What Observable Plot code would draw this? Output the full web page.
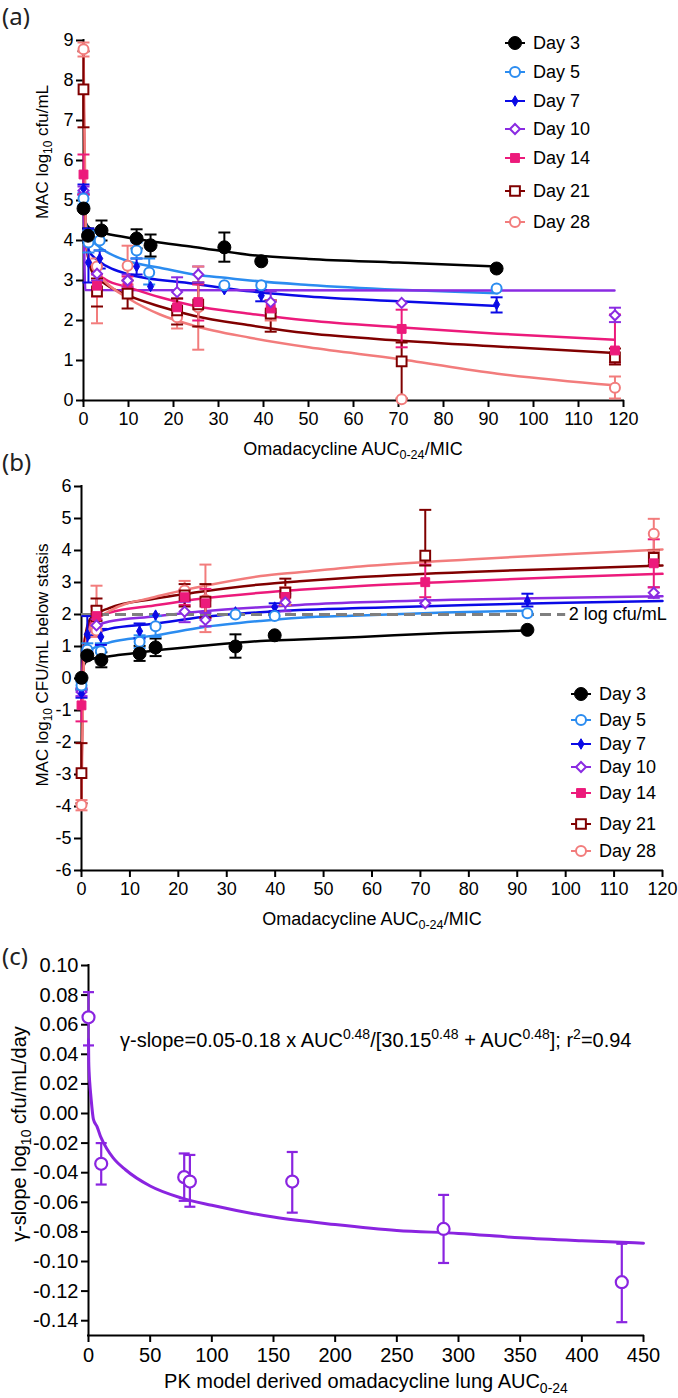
<!DOCTYPE html>
<html><head><meta charset="utf-8">
<script src="https://cdn.jsdelivr.net/npm/d3@7"></script>
<script src="https://cdn.jsdelivr.net/npm/@observablehq/plot@0.6"></script>
<style>
body{margin:0;background:#fff;}
#root{position:relative;width:678px;height:1398px;font-family:"Liberation Sans",Arial,sans-serif;color:#000;overflow:hidden;background:#fff}
.abs{position:absolute;white-space:nowrap;line-height:1}
.rot{transform:translate(-50%,-50%) rotate(-90deg)}
.ctr{transform:translate(-50%,-50%)}
.lab{font-family:"Noto Sans","Open Sans",sans-serif;font-size:24px;color:#222}
sub,sup{font-size:70%;line-height:0}
sub{vertical-align:-0.35em}
sup{vertical-align:0.55em}
.plotbox{position:absolute;left:0}
</style></head><body><div id="root"></div>
<script>
// ---------------- DATA ----------------
const days = ["Day 3","Day 5","Day 7","Day 10","Day 14","Day 21","Day 28"];

// Panel (a): [AUC0-24/MIC, MAC log10 cfu/mL, lower, upper]
const a_day3  = [[0,4.8],[1.0,4.12,3.95,4.3],[4.0,4.25,4.0,4.5],[11.8,4.05,3.8,4.28],[14.9,3.88,3.6,4.15],[31.3,3.83,3.47,4.2],[39.5,3.48],[91.8,3.3]];
const a_day5  = [[0,5.05,4.9,5.2],[1.1,3.95,3.7,4.25],[3.6,4.0,3.75,4.2],[11.8,3.75,3.55,3.95],[14.6,3.2,2.9,3.55],[31.3,2.88],[39.5,2.88],[91.8,2.8]];
const a_day7  = [[0,5.3,5.15,5.4],[1.1,3.45,2.95,4.3],[3.6,3.55,3.3,3.75],[11.8,3.35,3.15,3.55],[14.9,2.85],[31.3,2.77],[39.5,2.62,2.48,2.75],[91.8,2.4,2.2,2.58]];
const a_day10 = [[0,5.25,5.15,5.35],[3.0,3.17,3.0,3.35],[9.8,3.0,2.85,3.15],[20.8,2.71,2.35,3.08],[25.5,3.15,2.95,3.35],[41.6,2.46,2.2,2.73],[70.7,2.44],[118.1,2.13,1.96,2.32]];
const a_day14 = [[0,5.65,5.15,6.15],[3.0,2.87,2.6,3.15],[9.8,2.95,2.8,3.1],[20.8,2.33,2.1,2.55],[25.5,2.46,2.0,2.9],[41.6,2.3,2.1,2.5],[70.7,1.79,1.33,2.27],[118.1,1.25,0.95,2.15]];
const a_day21 = [[0,7.78,6.83,8.73],[3.0,2.73,2.35,3.05],[9.8,2.67,2.3,3.0],[20.8,2.25,1.9,2.55],[25.5,2.4,1.85,2.95],[41.6,2.17,1.72,2.5],[70.7,0.98,0.05,1.45],[118.1,1.08,0.9,1.3]];
const a_day28 = [[0,8.78,8.6,8.95],[3.0,3.35,1.93,3.55],[9.8,3.37,2.9,3.87],[20.8,2.08,1.8,2.3],[25.5,2.33,1.27,3.35],[41.6,2.25,2.0,2.5],[70.7,0.03],[118.1,0.32,0.05,0.6]];

// Panel (a) fitted curves: [x, y]
const a_fit3  = [[0,4.8],[0.5,4.45],[1,4.35],[2,4.27],[4,4.2],[10,4.07],[15,3.98],[24.5,3.84],[37,3.64],[50,3.54],[70,3.45],[92,3.35]];
const a_fit5  = [[0,5.05],[0.5,4.45],[1,4.2],[2,4.0],[4,3.8],[10,3.48],[17,3.32],[24.5,3.15],[32,3.06],[37,3.0],[50,2.89],[70,2.77],[92,2.68]];
const a_fit7  = [[0,5.3],[0.5,4.1],[1,3.8],[2,3.62],[3,3.52],[9.5,3.17],[24.5,2.92],[37,2.73],[50,2.6],[70,2.48],[92,2.36]];
const a_fit10 = [[0,5.25],[0.4,2.76],[118,2.75]];
const a_fit14 = [[0,5.65],[0.5,4.0],[1,3.6],[2,3.3],[5,3.02],[10,2.83],[17,2.58],[24.5,2.37],[37,2.17],[50,2.0],[70,1.83],[92,1.67],[118,1.52]];
const a_fit21 = [[0,7.78],[0.5,4.3],[1,3.6],[2,3.2],[5,2.9],[10,2.62],[17,2.35],[24.5,2.12],[37,1.88],[50,1.68],[70,1.5],[92,1.35],[118,1.19]];
const a_fit28 = [[0,8.78],[0.5,4.3],[1,3.7],[2,3.35],[5,2.95],[10,2.55],[17,2.15],[24.5,1.87],[37,1.57],[50,1.33],[70,1.04],[92,0.67],[118,0.38]];

// Panel (b): [AUC0-24/MIC, log10 CFU/mL below stasis, lower, upper]
const b_day3  = [[0,0.02],[1.2,0.72],[4.1,0.58,0.35,0.82],[12,0.78,0.55,1.02],[15.3,0.97,0.7,1.25],[31.8,1.0,0.65,1.38],[39.9,1.35],[92.1,1.52]];
const b_day5  = [[0,-0.22,-0.35,-0.1],[1.2,0.9,0.7,1.1],[4.0,0.85,0.6,1.1],[12,1.15,0.95,1.35],[15.3,1.63,1.3,1.95],[31.8,2.0],[39.9,1.95],[92.1,2.04]];
const b_day7  = [[0,-0.47,-0.6,-0.35],[1.2,1.38,0.85,1.95],[4.0,1.3,1.05,1.55],[12,1.48,1.25,1.72],[15.3,1.98],[31.8,2.08],[39.9,2.23,2.1,2.35],[92.1,2.42,2.25,2.65]];
const b_day10 = [[0,-0.42,-0.55,-0.3],[3.1,1.66,1.45,1.85],[21.3,2.09,1.76,2.4],[25.6,1.83,1.63,2.05],[42.1,2.38,2.1,2.65],[71,2.35],[118.2,2.68,2.52,2.85]];
const b_day14 = [[0,-0.84,-1.34,-0.34],[3.1,1.95,1.65,2.25],[21.3,2.54,2.3,2.78],[25.6,2.35,1.9,2.8],[42.1,2.55,2.3,2.75],[71,3.01,2.54,3.56],[118.2,3.6,2.85,4.35]];
const b_day21 = [[0,-2.96,-3.9,-2.02],[3.1,2.12,1.8,2.5],[21.3,2.6,2.25,2.95],[25.6,2.4,1.9,2.95],[42.1,2.68,2.3,3.12],[71,3.84,3.53,5.27],[118.2,3.77,3.55,4.0]];
const b_day28 = [[0,-3.95,-4.12,-3.8],[3.1,1.5,1.3,2.9],[21.3,2.75,2.5,3.05],[25.6,2.45,1.45,3.56],[42.1,2.58,2.3,2.85],[118.2,4.52,4.0,4.99]];

// Panel (b) fitted curves
const b_fit3  = [[0,0.02],[0.5,0.42],[1,0.53],[2,0.6],[4.5,0.67],[8,0.74],[15,0.87],[25,1.02],[37,1.17],[45,1.22],[57.6,1.3],[75,1.42],[92,1.5]];
const b_fit5  = [[0,-0.22],[0.5,0.5],[1,0.72],[2,0.9],[5.7,1.12],[10,1.24],[15,1.34],[25,1.6],[37,1.8],[45,1.9],[57.6,1.97],[75,2.06],[92,2.12]];
const b_fit7  = [[0,-0.47],[0.5,0.9],[1,1.13],[2,1.33],[5.7,1.55],[15,1.71],[25,1.92],[37,2.07],[45,2.14],[57.6,2.2],[80,2.3],[100,2.37],[120,2.42]];
const b_fit10 = [[0,-0.42],[0.5,1.0],[1,1.28],[2,1.52],[5.7,1.78],[15,1.94],[25,2.1],[37,2.23],[45,2.3],[57.6,2.38],[80,2.47],[100,2.52],[120,2.57]];
const b_fit14 = [[0,-0.84],[0.5,1.05],[1,1.45],[2,1.75],[5.7,2.05],[15,2.28],[25,2.5],[37,2.68],[45,2.77],[57.6,2.89],[80,3.05],[100,3.17],[120,3.27]];
const b_fit21 = [[0,-2.96],[0.5,0.8],[1,1.5],[2,1.9],[5.7,2.2],[15,2.49],[25,2.72],[37,2.94],[45,3.04],[57.6,3.17],[80,3.33],[100,3.43],[120,3.53]];
const b_fit28 = [[0,-3.95],[0.5,0.5],[1,1.2],[2,1.65],[5.7,2.1],[15,2.54],[25,2.88],[37,3.2],[45,3.32],[57.6,3.5],[80,3.72],[100,3.88],[120,4.03]];
const stasisRef = {y: 2, x1: 0, x2: 100, label: "2 log cfu/mL"};

// Panel (c)
const cAUC   = [0, 10.3, 77.6, 82.2, 165.2, 287.9, 432.4];
const cSlope = [0.065, -0.034, -0.043, -0.046, -0.046, -0.078, -0.114];
const cLo    = [0.046, -0.048, -0.059, -0.063, -0.067, -0.101, -0.141];
const cHi    = [0.082, -0.020, -0.027, -0.028, -0.026, -0.055, -0.088];
const cFitAUC   = [0,0.2,0.5,1,2,4,7,10,15,20,30,50,75,100,150,200,250,300,350,400,450];
const cFitSlope = [0.05,0.035,0.028,0.021,0.011,-0.004,-0.009,-0.016,-0.024,-0.030,-0.038,-0.049,-0.057,-0.062,-0.070,-0.075,-0.079,-0.081,-0.084,-0.086,-0.0876];

// Ticks
const aXTicks = [0,10,20,30,40,50,60,70,80,90,100,110,120];
const aYTicks = [0,1,2,3,4,5,6,7,8,9];
const bXTicks = [0,10,20,30,40,50,60,70,80,90,100,110,120];
const bYTicks = [-6,-5,-4,-3,-2,-1,0,1,2,3,4,5,6];
const cXTicks = [0,50,100,150,200,250,300,350,400,450];
const cYTicks = [0.10,0.08,0.06,0.04,0.02,0.00,-0.02,-0.04,-0.06,-0.08,-0.10,-0.12,-0.14];

// ---------------- STYLE ----------------
const dayColors  = ["#000000","#2b8cf0","#0a0ae6","#8a2be2","#ec1a7b","#800000","#f27c7c"];
const daySymbols = ["circle","circle","diamond","diamond2","square","square","circle"];
const dayFilled  = [true,false,true,false,true,false,false];
const dayR       = [6.5,5,3.2,4.5,5,5.5,5];
const cColor = "#8a24e0";
const FONT = '"Liberation Sans", Arial, sans-serif';
const capSym = {draw(ctx){ ctx.moveTo(-6,0); ctx.lineTo(6,0); }};
const capSymC = {draw(ctx){ ctx.moveTo(-5.5,0); ctx.lineTo(5.5,0); }};

// ---------------- BUILD ----------------
const root = document.getElementById("root");

function pointRows(list){ return list.flatMap((pts,i)=>pts.map(([x,y,lo,hi])=>({day:days[i],x,y,lo:lo??y,hi:hi??y}))); }
function fitRows(list){ return list.flatMap((pts,i)=>pts.map(([x,y])=>({day:days[i],x,y}))); }

function dayMarks(pts, fits, extra){
  const err = pts.filter(d=>d.hi>d.lo);
  const marks = [
    Plot.line(fits, {x:"x", y:"y", z:"day", stroke:"day", strokeWidth:2.5, curve:"monotone-x"}),
    ...(extra||[]),
    Plot.ruleX(err, {x:"x", y1:"lo", y2:"hi", stroke:"day", strokeWidth:2}),
    Plot.dot(err, {x:"x", y:"hi", symbol:capSym, stroke:"day", strokeWidth:2, fill:"none"}),
    Plot.dot(err, {x:"x", y:"lo", symbol:capSym, stroke:"day", strokeWidth:2, fill:"none"})
  ];
  for (let i = days.length-1; i >= 0; i--) {
    const sub = pts.filter(d=>d.day===days[i]);
    marks.push(Plot.dot(sub, {x:"x", y:"y", symbol:daySymbols[i], r:dayR[i],
      fill: dayFilled[i] ? "day" : "white", stroke:"day", strokeWidth: dayFilled[i]?1:2}));
  }
  return marks;
}

function mkPlot(o){
  return Plot.plot({
    width: 678, height: o.h, marginTop: o.mt, marginBottom: o.mb, marginLeft: o.ml, marginRight: o.mr,
    style: {fontFamily: FONT, fontSize: o.fs+"px", color:"#000", background:"transparent", overflow:"visible"},
    x: {domain: o.xDom, label: null},
    y: {domain: o.yDom, label: null},
    color: o.color,
    marks: [
      Plot.axisX({ticks:o.xTicks, tickSize:7, tickPadding:5, fontSize:o.fs, strokeWidth:2, label:null, tickFormat:d=>String(d)}),
      Plot.axisY({ticks:o.yTicks, tickSize:7, tickPadding:3, fontSize:o.fs, strokeWidth:2, label:null, tickFormat:o.fmtY}),
      Plot.ruleY([o.yDom[0]], {strokeWidth:2, strokeLinecap:"square"}),
      Plot.ruleX([o.xDom[0]], {strokeWidth:2, strokeLinecap:"square"}),
      ...o.marks
    ]
  });
}
function place(node, top){
  const div = document.createElement("div");
  div.className = "plotbox"; div.style.top = top+"px";
  div.appendChild(node); root.appendChild(div);
}

const colorScale = {domain: days, range: dayColors};

// Panel (a)
const aPts = pointRows([a_day3,a_day5,a_day7,a_day10,a_day14,a_day21,a_day28]);
const aFit = fitRows([a_fit3,a_fit5,a_fit7,a_fit10,a_fit14,a_fit21,a_fit28]);
place(mkPlot({h:460, mt:40, mb:60, ml:83, mr:55, xDom:[0,120], yDom:[0,9], xTicks:aXTicks, yTicks:aYTicks,
  fmtY:d=>String(d), fs:18, color:colorScale, marks:dayMarks(aPts,aFit)}), 0);

// Panel (b)
const bPts = pointRows([b_day3,b_day5,b_day7,b_day10,b_day14,b_day21,b_day28]);
const bFit = fitRows([b_fit3,b_fit5,b_fit7,b_fit10,b_fit14,b_fit21,b_fit28]);
const bExtra = [
  Plot.ruleY([stasisRef], {y:"y", x1:"x1", x2:"x2", stroke:"#7f7f7f", strokeWidth:3, strokeDasharray:"11,6"}),
  Plot.text([stasisRef], {x:"x2", y:"y", text:"label", textAnchor:"start", dx:3, fontSize:18, fill:"#000"})
];
place(mkPlot({h:470, mt:26, mb:60, ml:81, mr:16, xDom:[0,120], yDom:[-6,6], xTicks:bXTicks, yTicks:bYTicks,
  fmtY:d=>String(d), fs:18, color:colorScale, marks:dayMarks(bPts,bFit,bExtra)}), 460);

// Panel (c)
const cPts = cAUC.map((x,i)=>({x, y:cSlope[i], lo:cLo[i], hi:cHi[i]}));
const cFit = cFitAUC.map((x,i)=>({x, y:cFitSlope[i]}));
const cMarks = [
  Plot.line(cFit, {x:"x", y:"y", stroke:cColor, strokeWidth:3, curve:"monotone-x"}),
  Plot.ruleX(cPts, {x:"x", y1:"lo", y2:"hi", stroke:cColor, strokeWidth:2.2}),
  Plot.dot(cPts, {x:"x", y:"hi", symbol:capSymC, stroke:cColor, strokeWidth:2.2, fill:"none"}),
  Plot.dot(cPts, {x:"x", y:"lo", symbol:capSymC, stroke:cColor, strokeWidth:2.2, fill:"none"}),
  Plot.dot(cPts, {x:"x", y:"y", r:6, fill:"white", stroke:cColor, strokeWidth:2.2})
];
place(mkPlot({h:468, mt:35, mb:63, ml:88, mr:35, xDom:[0,450], yDom:[-0.15,0.10], xTicks:cXTicks, yTicks:cYTicks,
  fmtY:d=>d.toFixed(2), fs:20, marks:cMarks}), 930);

// ---------------- TEXT OVERLAYS ----------------
function addText(html, x, y, cls, fs){
  const d = document.createElement("div");
  d.className = "abs " + cls; d.innerHTML = html;
  d.style.left = x+"px"; d.style.top = y+"px";
  if (fs) d.style.fontSize = fs+"px";
  root.appendChild(d); return d;
}
addText("(a)", 2, 4, "lab");
addText("(b)", 2, 450, "lab");
addText("(c)", 2, 944, "lab");
addText("MAC log<sub>10</sub> cfu/mL", 42, 152, "rot", 17);
addText("MAC log<sub>10</sub> CFU/mL below stasis", 42, 665, "rot", 17);
addText("γ-slope log<sub>10</sub> cfu/mL/day", 19, 1134, "rot", 20);
addText("Omadacycline AUC<sub>0-24</sub>/MIC", 353, 449, "ctr", 18);
addText("Omadacycline AUC<sub>0-24</sub>/MIC", 372, 919, "ctr", 18);
addText("PK model derived omadacycline lung AUC<sub>0-24</sub>", 366, 1381, "ctr", 20);
addText("γ-slope=0.05-0.18 x AUC<sup>0.48</sup>/[30.15<sup>0.48</sup> + AUC<sup>0.48</sup>]; r<sup>2</sup>=0.94", 120, 1030, "", 20);

// ---------------- LEGENDS ----------------
const d3Sym = {circle:d3.symbolCircle, diamond:d3.symbolDiamond, diamond2:d3.symbolDiamond2, square:d3.symbolSquare};
function drawLegend(markerX, textX, rowYs){
  days.forEach((d,i)=>{
    const row = document.createElement("div");
    row.className = "abs";
    Object.assign(row.style, {left:(markerX-12)+"px", top:(rowYs[i]-10)+"px", height:"20px", display:"flex", alignItems:"center"});
    const svg = d3.create("svg").attr("width",24).attr("height",20).style("overflow","visible");
    svg.append("line").attr("x1",2).attr("x2",22).attr("y1",10).attr("y2",10).attr("stroke",dayColors[i]).attr("stroke-width",2);
    svg.append("path").attr("transform","translate(12,10)")
      .attr("d", d3.symbol(d3Sym[daySymbols[i]], Math.PI*dayR[i]*dayR[i])())
      .attr("fill", dayFilled[i]?dayColors[i]:"white").attr("stroke",dayColors[i]).attr("stroke-width",dayFilled[i]?1:2);
    row.appendChild(svg.node());
    const t = document.createElement("span");
    t.textContent = d; t.style.marginLeft = (textX-markerX-12)+"px"; t.style.fontSize = "18px";
    row.appendChild(t);
    root.appendChild(row);
  });
}
drawLegend(515, 533, [43,72,101,129,158,191,222]);
drawLegend(581, 599, [694,720,744,767,793,824,851]);
</script></body></html>
